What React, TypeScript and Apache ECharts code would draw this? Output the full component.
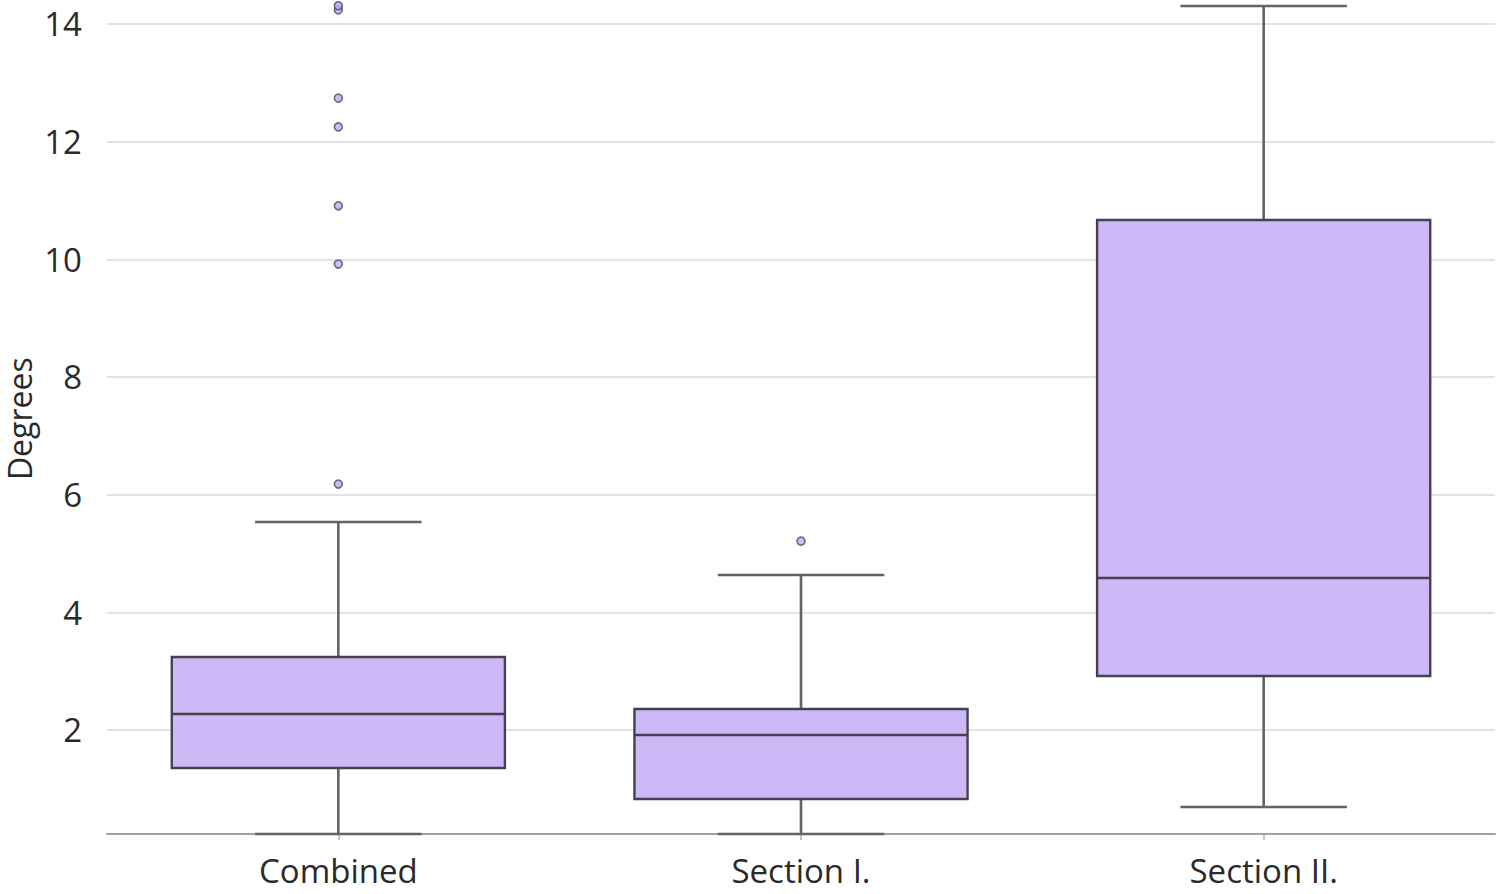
import React, { useEffect, useRef } from "react";
import * as echarts from "echarts";

const categories = ["Combined", "Section I.", "Section II."];
// [low whisker, Q1, median, Q3, high whisker]
const boxStats = [
  [0.232, 1.354, 2.272, 3.241, 5.535],
  [0.232, 0.827, 1.915, 2.357, 4.635],
  [0.691, 2.918, 4.584, 10.669, 14.306],
];
// [category index, value]
const outliers = [
  [0, 6.18],
  [0, 9.92],
  [0, 10.91],
  [0, 12.25],
  [0, 12.74],
  [0, 14.24],
  [0, 14.31],
  [1, 5.21],
];
const yTicks = [2, 4, 6, 8, 10, 12, 14];

const FONT = "'Open Sans', 'Noto Sans', sans-serif";

export default function App() {
  const ref = useRef<HTMLDivElement>(null);
  useEffect(() => {
    document.body.style.margin = "0";
    const chart = echarts.init(ref.current!, null, { renderer: "svg" });
    const boxData = boxStats.map((s, i) => [i, ...s]);
    chart.setOption({
      animation: false,
      backgroundColor: "#ffffff",
      grid: { left: 107, right: 4, top: 3.4, bottom: 60, outerBoundsMode: "none", containLabel: false },
      xAxis: {
        type: "category",
        data: categories,
        axisLine: { show: true, lineStyle: { color: "#a0a0a0", width: 2 } },
        axisTick: { show: true, alignWithLabel: true, length: 6, lineStyle: { color: "#b0b0b0", width: 1.5 } },
        axisLabel: { fontFamily: FONT, fontSize: 33, lineHeight: 36, color: "#2a2a2a", margin: 18 },
        splitLine: { show: false },
      },
      yAxis: {
        type: "value",
        min: 0.232,
        max: 14.35,
        splitNumber: 7,
        name: "Degrees",
        nameLocation: "middle",
        nameGap: 72,
        nameMoveOverlap: false,
        nameTextStyle: { fontFamily: FONT, fontSize: 32, lineHeight: 32, color: "#2a2a2a" },
        axisLine: { show: false },
        axisTick: { show: false },
        axisLabel: {
          fontFamily: FONT,
          fontSize: 33,
          color: "#2a2a2a",
          margin: 25,
          showMinLabel: false,
          showMaxLabel: false,
          formatter: (v: number) => (yTicks.indexOf(Math.round(v * 1000) / 1000) >= 0 ? String(v) : ""),
        },
        splitLine: { show: true, showMinLine: false, showMaxLine: false, lineStyle: { color: "#e3e3e3", width: 2 } },
      },
      series: [
        {
          type: "custom",
          clip: false,
          data: boxData,
          encode: { x: 0, y: [1, 2, 3, 4, 5] },
          renderItem: (params: any, api: any) => {
            const xi = api.value(0);
            const band = api.size([1, 0])[0];
            const bw = band * 0.72;
            const cw = bw / 2;
            const pLow = api.coord([xi, api.value(1)]);
            const pQ1 = api.coord([xi, api.value(2)]);
            const pMed = api.coord([xi, api.value(3)]);
            const pQ3 = api.coord([xi, api.value(4)]);
            const pHigh = api.coord([xi, api.value(5)]);
            const cx = pMed[0];
            const lineStyle = { stroke: "#636369", lineWidth: 2.6 };
            const boxStroke = { stroke: "#45424f", lineWidth: 2.4 };
            return {
              type: "group",
              children: [
                { type: "line", shape: { x1: cx, y1: pQ3[1], x2: cx, y2: pHigh[1] }, style: lineStyle },
                { type: "line", shape: { x1: cx, y1: pQ1[1], x2: cx, y2: pLow[1] }, style: lineStyle },
                { type: "line", shape: { x1: cx - cw / 2, y1: pHigh[1], x2: cx + cw / 2, y2: pHigh[1] }, style: lineStyle },
                { type: "line", shape: { x1: cx - cw / 2, y1: pLow[1], x2: cx + cw / 2, y2: pLow[1] }, style: lineStyle },
                {
                  type: "rect",
                  shape: { x: cx - bw / 2, y: pQ3[1], width: bw, height: pQ1[1] - pQ3[1] },
                  style: { fill: "#cdb9f8", ...boxStroke },
                },
                { type: "line", shape: { x1: cx - bw / 2, y1: pMed[1], x2: cx + bw / 2, y2: pMed[1] }, style: boxStroke },
              ],
            };
          },
          z: 2,
        },
        {
          type: "scatter",
          data: outliers,
          symbol: "circle",
          symbolSize: 8,
          itemStyle: { color: "#c3aaf2", borderColor: "#4d4a63", borderWidth: 1.6 },
          z: 3,
        },
      ],
    });
    return () => chart.dispose();
  }, []);
  return <div ref={ref} style={{ width: 1499, height: 894 }} />;
}
